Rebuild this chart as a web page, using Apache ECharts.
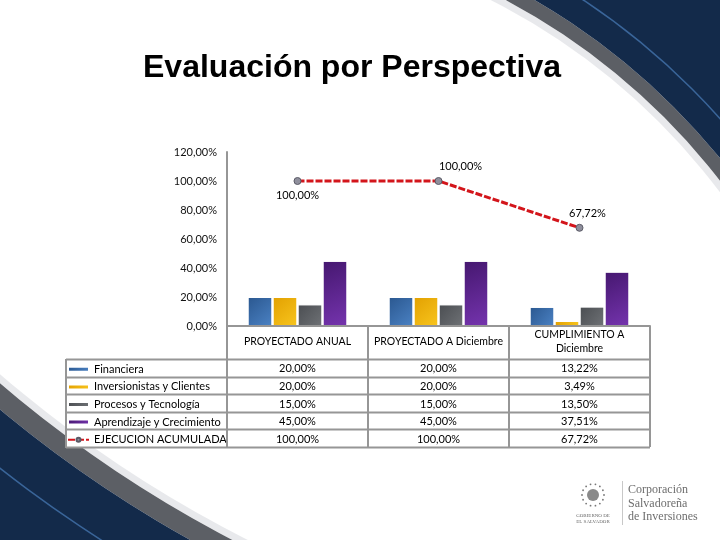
<!DOCTYPE html>
<html><head><meta charset="utf-8">
<script src="https://cdn.jsdelivr.net/npm/echarts@6/dist/echarts.min.js"></script>
<style>html,body{margin:0;padding:0;background:#fff}#c{width:720px;height:540px}</style>
</head><body><div id="c"></div>
<script>
const titleText = 'Evaluación por Perspectiva';
const categories = ['PROYECTADO ANUAL', 'PROYECTADO A Diciembre', 'CUMPLIMIENTO A\nDiciembre'];
const seriesNames = ['Financiera', 'Inversionistas y Clientes', 'Procesos y Tecnología', 'Aprendizaje y Crecimiento', 'EJECUCION ACUMULADA'];
const financiera = [20, 20, 13.22];
const inversionistas = [20, 20, 3.49];
const procesos = [15, 15, 13.5];
const aprendizaje = [45, 45, 37.51];
const ejecucion = [100, 100, 67.72];
const yMin = 0, yMax = 120, yInterval = 20;
const logoLines = ['Corporación', 'Salvadoreña', 'de Inversiones'];
const govLines = ['GOBIERNO DE', 'EL SALVADOR'];

const barValues = [financiera, inversionistas, procesos, aprendizaje];
const barColors = [['#2a578f', '#4b82c4'], ['#e2a000', '#f8c51e'], ['#4a4d51', '#6f7276'], ['#45176f', '#7534ae']];
const lineLabelPlacement = [
  { position: 'bottom', offset: [0, 0] },
  { position: 'top', offset: [22, 0] },
  { position: 'top', offset: [8, 0] }
];
const FONT = 'Lato, "Open Sans", sans-serif';
const fmt = v => v.toFixed(2).replace('.', ',') + '%';

const chart = echarts.init(document.getElementById('c'), null, { renderer: 'canvas' });

const grid = { left: 227, right: 70, top: 152, bottom: 214 };
const tableLeft = 66, headerBottom = 359, rowH = 17.6, tableRight = 720 - grid.right;

const series = barValues.map((vals, i) => ({
  name: seriesNames[i],
  type: 'bar',
  data: vals,
  barWidth: 25,
  barGap: '0%',
  z: 3,
  itemStyle: {
    color: new echarts.graphic.LinearGradient(0, 0, 1, 1, [
      { offset: 0, color: barColors[i][0] }, { offset: 1, color: barColors[i][1] }
    ]),
    borderColor: '#ffffff', borderWidth: 1
  }
}));
series.push({
  name: seriesNames[4],
  type: 'line',
  z: 4,
  data: ejecucion.map((v, i) => ({ value: v, label: lineLabelPlacement[i] })),
  symbol: 'circle', symbolSize: 7,
  itemStyle: { color: '#8f8f9c', borderColor: '#5a5a66', borderWidth: 1 },
  lineStyle: { color: '#d3151b', width: 3, type: [7, 2] },
  label: { show: true, formatter: p => fmt(p.value), fontFamily: FONT, fontSize: 11, color: '#000', distance: 5 }
});

chart.setOption({
  animation: false,
  backgroundColor: 'transparent',
  title: {
    text: titleText, left: 347, top: 47, textAlign: 'center',
    textStyle: { fontFamily: '"Liberation Sans", Arial, sans-serif', fontSize: 32, fontWeight: 'bold', color: '#000' }
  },
  legend: {
    orient: 'vertical', left: tableLeft + 1, top: headerBottom + rowH / 2 - 5.5, padding: 0,
    itemWidth: 21, itemHeight: 5, itemGap: rowH - 14, selectedMode: false,
    data: seriesNames.map((n, i) => i < 4 ? { name: n, icon: 'rect' } : { name: n }),
    textStyle: { fontFamily: FONT, fontSize: 11, lineHeight: 14, color: '#000' }
  },
  grid: grid,
  xAxis: {
    type: 'category', data: categories, z: 5,
    axisLine: { lineStyle: { color: '#969696', width: 2 } },
    axisTick: { show: true, length: 121, lineStyle: { color: '#969696', width: 2 } },
    axisLabel: { interval: 0, margin: 16, verticalAlign: 'middle', lineHeight: 14, fontFamily: FONT, fontSize: 10.5, color: '#000' }
  },
  yAxis: {
    type: 'value', min: yMin, max: yMax, interval: yInterval, z: 5,
    axisLine: { show: true, lineStyle: { color: '#969696', width: 2 } },
    axisTick: { show: false },
    splitLine: { show: false },
    axisLabel: { margin: 10, formatter: v => fmt(v), fontFamily: FONT, fontSize: 11, color: '#111' }
  },
  series: series
});

// Table and decoration
const colX = categories.map((c, i) => chart.convertToPixel({ xAxisIndex: 0 }, i));
const g = [];
// background swoosh (decoration)
const tr = { cx: 193, cy: 588, r: 666 };
const bl = { cx: 798, cy: -550, r: 1228 };
[[tr, 14, 25], [bl, 20, 45]].forEach(([c, band, lineOff]) => {
  g.push({ type: 'ring', z: 0, z2: 1, silent: true, shape: { cx: c.cx, cy: c.cy, r0: c.r - 7, r: c.r }, style: { fill: 'rgba(150,156,168,0.22)' } });
  g.push({ type: 'ring', z: 0, z2: 2, silent: true, shape: { cx: c.cx, cy: c.cy, r0: c.r, r: c.r + band }, style: { fill: '#5c5f65' } });
  g.push({ type: 'ring', z: 0, z2: 3, silent: true, shape: { cx: c.cx, cy: c.cy, r0: c.r + band, r: c.r + 1800 }, style: { fill: '#132a4a' } });
  g.push({ type: 'ring', z: 0, z2: 4, silent: true, shape: { cx: c.cx, cy: c.cy, r0: c.r + band + lineOff, r: c.r + band + lineOff + 1.5 }, style: { fill: '#3a6599' } });
});
// white table background
g.push({ type: 'rect', z: 0, z2: 10, silent: true, shape: { x: tableLeft, y: 326, width: tableRight - tableLeft, height: headerBottom + rowH * 5 - 326 }, style: { fill: '#fff' } });
// horizontal table lines
for (let k = 0; k <= 5; k++) {
  const y = Math.round(headerBottom + k * rowH) + 0.5;
  g.push({ type: 'line', z: 6, silent: true, shape: { x1: tableLeft, y1: y, x2: tableRight, y2: y }, style: { stroke: '#969696', lineWidth: 2 } });
}
g.push({ type: 'line', z: 6, silent: true, shape: { x1: tableLeft, y1: headerBottom, x2: tableLeft, y2: headerBottom + 5 * rowH + 1 }, style: { stroke: '#969696', lineWidth: 2 } });
// table values
const tableRows = [financiera, inversionistas, procesos, aprendizaje, ejecucion];
tableRows.forEach((vals, r) => {
  vals.forEach((v, c) => {
    g.push({ type: 'text', z: 7, silent: true, x: colX[c], y: headerBottom + rowH * (r + 0.5) + 1,
      style: { text: fmt(v), textAlign: 'center', textVerticalAlign: 'middle', font: '11px ' + FONT, fill: '#000' } });
  });
});
// logo
g.push({ type: 'line', z: 7, silent: true, shape: { x1: 622.5, y1: 481, x2: 622.5, y2: 525 }, style: { stroke: '#c8c8c8', lineWidth: 1 } });
logoLines.forEach((t, i) => {
  g.push({ type: 'text', z: 7, silent: true, x: 628, y: 490 + i * 13.5,
    style: { text: t, textAlign: 'left', textVerticalAlign: 'middle', font: '12px "Liberation Serif", "DejaVu Serif", serif', fill: '#6e6e6e' } });
});
g.push({ type: 'circle', z: 7, silent: true, shape: { cx: 593, cy: 495, r: 6 }, style: { fill: '#8a8a8a' } });
for (let k = 0; k < 14; k++) {
  const a = k / 14 * Math.PI * 2;
  g.push({ type: 'circle', z: 7, silent: true, shape: { cx: 593 + 11 * Math.cos(a), cy: 495 + 11 * Math.sin(a), r: 0.9 }, style: { fill: '#777' } });
}
govLines.forEach((t, i) => {
  g.push({ type: 'text', z: 7, silent: true, x: 593, y: 516 + i * 5.5,
    style: { text: t, textAlign: 'center', textVerticalAlign: 'middle', font: '5px "Liberation Serif", serif', fill: '#666' } });
});

chart.setOption({ graphic: g });
</script>
</body></html>
